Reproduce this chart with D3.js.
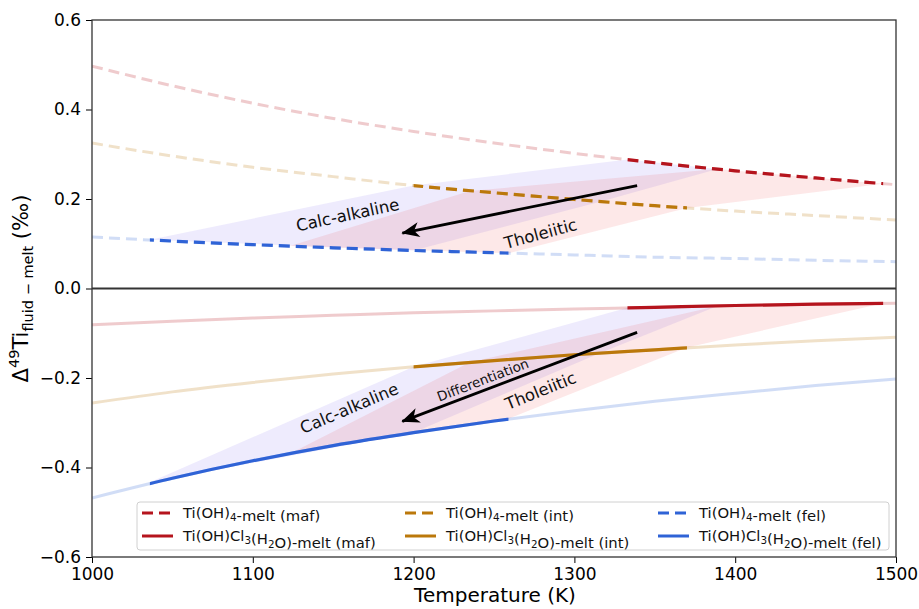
<!DOCTYPE html>
<html>
<head>
<meta charset="utf-8">
<script src="https://cdn.jsdelivr.net/npm/d3@7"></script>
<style>
body { margin: 0; background: #fff; }
svg { font-family: "DejaVu Sans", sans-serif; }
</style>
</head>
<body>
<div id="chart"></div>
<script>
const WIDTH = 919
const HEIGHT = 609
const LEFT = 92, RIGHT = 896, TOP = 20, BOTTOM = 557

// temperature grid (K)
const temps = [1000, 1050, 1100, 1150, 1200, 1250, 1300, 1350, 1400, 1450, 1500]

// Ti(OH)4-melt (dashed, upper half)
const mafOH4 = [0.497, 0.453, 0.414, 0.380, 0.351, 0.325, 0.302, 0.281, 0.263, 0.247, 0.232]
const intOH4 = [0.325, 0.296, 0.271, 0.250, 0.230, 0.214, 0.199, 0.185, 0.173, 0.163, 0.153]
const felOH4 = [0.115, 0.106, 0.098, 0.091, 0.085, 0.080, 0.075, 0.070, 0.067, 0.063, 0.060]

// Ti(OH)Cl3(H2O)-melt (solid, lower half)
const mafCl = [-0.081, -0.073, -0.066, -0.060, -0.054, -0.050, -0.046, -0.042, -0.038, -0.035, -0.033]
const intCl = [-0.256, -0.231, -0.210, -0.191, -0.175, -0.161, -0.148, -0.137, -0.126, -0.117, -0.109]
const felCl = [-0.468, -0.424, -0.385, -0.351, -0.322, -0.296, -0.273, -0.252, -0.234, -0.217, -0.202]

// temperature ranges drawn in full colour
const mafRange = [1333, 1492]
const intRange = [1200, 1370]
const felRange = [1036, 1259]

// shaded fields [T, value]
const calcTop = [[1036, 0.109], [1200, 0.230], [1333, 0.288], [1389, 0.267], [1316, 0.194], [1200, 0.085]]
const tholTop = [[1123, 0.095], [1235, 0.218], [1389, 0.267], [1492, 0.234], [1370, 0.180], [1259, 0.079]]
const calcBot = [[1036, -0.433], [1200, -0.175], [1333, -0.043], [1389, -0.039], [1316, -0.144], [1200, -0.322]]
const tholBot = [[1123, -0.369], [1235, -0.165], [1389, -0.039], [1492, -0.033], [1370, -0.132], [1259, -0.291]]

// differentiation arrows [from, to]
const arrows = [
    [[1339, 0.230], [1193, 0.124]],
    [[1339, -0.098], [1193, -0.297]]
]

// text annotations [T, value, angle, text, size]
const notes = [
    [1159, 0.164, -12, 'Calc-alkaline', 16.5],
    [1279, 0.122, -15, 'Tholeiitic', 16.5],
    [1160, -0.268, -23, 'Calc-alkaline', 16.5],
    [1243, -0.204, -21, 'Differentiation', 13.5],
    [1279, -0.229, -22, 'Tholeiitic', 16.5]
]

const xTicks = [1000, 1100, 1200, 1300, 1400, 1500]
const yTicks = [-0.6, -0.4, -0.2, 0.0, 0.2, 0.4, 0.6]

const COLORS = { maf: '#b5141d', int: '#bb780b', fel: '#2f63d6' }

const series = [
    { key: 'mafOH4', values: mafOH4, range: mafRange, color: COLORS.maf, dashed: true, label: 'Ti(OH)_4-melt (maf)' },
    { key: 'mafCl', values: mafCl, range: mafRange, color: COLORS.maf, dashed: false, label: 'Ti(OH)Cl_3(H_2O)-melt (maf)' },
    { key: 'intOH4', values: intOH4, range: intRange, color: COLORS.int, dashed: true, label: 'Ti(OH)_4-melt (int)' },
    { key: 'intCl', values: intCl, range: intRange, color: COLORS.int, dashed: false, label: 'Ti(OH)Cl_3(H_2O)-melt (int)' },
    { key: 'felOH4', values: felOH4, range: felRange, color: COLORS.fel, dashed: true, label: 'Ti(OH)_4-melt (fel)' },
    { key: 'felCl', values: felCl, range: felRange, color: COLORS.fel, dashed: false, label: 'Ti(OH)Cl_3(H_2O)-melt (fel)' }
]

// writes "a_b" style text as tspans with one-char subscripts
const richText = (sel, str, size) => {
    const parts = str.split(/(_.)/).filter(p => p.length)
    parts.forEach(p => {
        if (p[0] === '_') {
            sel.append('tspan').attr('font-size', size * 0.7).attr('dy', size * 0.22).text(p[1])
            sel.append('tspan').attr('dy', -size * 0.22).text('')
        } else {
            sel.append('tspan').text(p)
        }
    })
}

const main = _ => {
    const x = d3.scaleLinear().domain([1000, 1500]).range([LEFT, RIGHT])
    const y = d3.scaleLinear().domain([-0.6, 0.6]).range([BOTTOM, TOP])

    const svg = d3.select('#chart')
        .append('svg')
        .attr('width', WIDTH)
        .attr('height', HEIGHT)

    const defs = svg.append('defs')
    defs.append('clipPath').attr('id', 'plot')
        .append('rect')
        .attr('x', LEFT).attr('y', TOP)
        .attr('width', RIGHT - LEFT).attr('height', BOTTOM - TOP)

    series.forEach(s => {
        defs.append('clipPath').attr('id', `clip-${s.key}`)
            .append('rect')
            .attr('x', x(s.range[0]))
            .attr('y', 0)
            .attr('width', x(s.range[1]) - x(s.range[0]))
            .attr('height', HEIGHT)
    })

    defs.append('marker')
        .attr('id', 'head')
        .attr('markerUnits', 'userSpaceOnUse')
        .attr('viewBox', '-19 -9 21 18')
        .attr('markerWidth', 21)
        .attr('markerHeight', 18)
        .attr('refX', 0)
        .attr('refY', 0)
        .attr('orient', 'auto')
        .append('path')
        .attr('d', 'M1,0 L-17,-7.5 L-12,0 L-17,7.5 Z')
        .attr('fill', '#000')

    const plot = svg.append('g').attr('clip-path', 'url(#plot)')

    const area = d3.line().x(d => x(d[0])).y(d => y(d[1]))

    const fields = [
        [calcTop, '#7b68ee', 0.13],
        [calcBot, '#7b68ee', 0.13],
        [tholTop, '#f03030', 0.11],
        [tholBot, '#f03030', 0.11]
    ]
    plot.selectAll('path.field')
        .data(fields)
        .enter()
        .append('path')
        .attr('class', 'field')
        .attr('d', d => area(d[0]) + 'Z')
        .attr('fill', d => d[1])
        .attr('fill-opacity', d => d[2])

    const line = d3.line()
        .x((d, i) => x(temps[i]))
        .y(d => y(d))
        .curve(d3.curveMonotoneX)

    // faint full-range curves
    plot.selectAll('path.faint')
        .data(series)
        .enter()
        .append('path')
        .attr('class', 'faint')
        .attr('d', s => line(s.values))
        .attr('fill', 'none')
        .attr('stroke', s => s.color)
        .attr('stroke-opacity', 0.22)
        .attr('stroke-width', 3)
        .attr('stroke-dasharray', s => s.dashed ? '11,6' : null)

    // highlighted ranges
    plot.selectAll('path.strong')
        .data(series)
        .enter()
        .append('path')
        .attr('class', 'strong')
        .attr('clip-path', s => `url(#clip-${s.key})`)
        .attr('d', s => line(s.values))
        .attr('fill', 'none')
        .attr('stroke', s => s.color)
        .attr('stroke-width', 3.2)
        .attr('stroke-dasharray', s => s.dashed ? '11,6' : null)

    // zero line
    svg.append('line')
        .attr('x1', LEFT).attr('x2', RIGHT)
        .attr('y1', y(0)).attr('y2', y(0))
        .attr('stroke', '#333')
        .attr('stroke-width', 2)

    plot.selectAll('line.arrow')
        .data(arrows)
        .enter()
        .append('line')
        .attr('class', 'arrow')
        .attr('x1', d => x(d[0][0])).attr('y1', d => y(d[0][1]))
        .attr('x2', d => x(d[1][0])).attr('y2', d => y(d[1][1]))
        .attr('stroke', '#000')
        .attr('stroke-width', 2.8)
        .attr('marker-end', 'url(#head)')

    plot.selectAll('text.note')
        .data(notes)
        .enter()
        .append('text')
        .attr('class', 'note')
        .attr('transform', d => `translate(${x(d[0])},${y(d[1])}) rotate(${d[2]})`)
        .attr('text-anchor', 'middle')
        .attr('dominant-baseline', 'central')
        .attr('font-size', d => d[4])
        .attr('fill', '#111')
        .text(d => d[3])

    // axes
    const xAxis = d3.axisBottom(x)
        .tickValues(xTicks)
        .tickSize(6)
        .tickPadding(5)
        .tickFormat(d3.format('d'))

    svg.append('g')
        .attr('transform', `translate(0, ${BOTTOM})`)
        .call(xAxis)
        .call(g => g.select('.domain').remove())
        .call(g => g.selectAll('text').attr('font-size', 17).attr('font-family', 'DejaVu Sans').attr('fill', '#000'))

    const yAxis = d3.axisLeft(y)
        .tickValues(yTicks)
        .tickSize(6)
        .tickPadding(5)
        .tickFormat(d => d3.format('.1f')(d).replace('-', '\u2212'))

    svg.append('g')
        .attr('transform', `translate(${LEFT}, 0)`)
        .call(yAxis)
        .call(g => g.select('.domain').remove())
        .call(g => g.selectAll('text').attr('font-size', 17).attr('font-family', 'DejaVu Sans').attr('fill', '#000'))

    svg.append('rect')
        .attr('x', LEFT).attr('y', TOP)
        .attr('width', RIGHT - LEFT).attr('height', BOTTOM - TOP)
        .attr('fill', 'none')
        .attr('stroke', '#333')
        .attr('stroke-width', 1.3)

    svg.append('text')
        .attr('x', 495)
        .attr('y', 602)
        .attr('text-anchor', 'middle')
        .attr('font-size', 20)
        .text('Temperature (K)')

    const yl = svg.append('text')
        .attr('transform', `translate(28, ${y(0)}) rotate(-90)`)
        .attr('text-anchor', 'middle')
        .attr('font-size', 21)
    yl.append('tspan').text('\u0394')
    yl.append('tspan').attr('font-size', 14.5).attr('dy', -9).text('49')
    yl.append('tspan').attr('dy', 9).text('Ti')
    yl.append('tspan').attr('font-size', 14.5).attr('dy', 5).text('fluid \u2212 melt')
    yl.append('tspan').attr('dy', -5).text(' (\u2030)')

    // legend
    const legend = svg.append('g')
    legend.append('rect')
        .attr('x', 137).attr('y', 502)
        .attr('width', 752).attr('height', 48)
        .attr('rx', 3)
        .attr('fill', '#fff')
        .attr('fill-opacity', 0.85)
        .attr('stroke', '#d0d0d0')

    const colX = [142, 405, 658]
    const rowY = [513, 536]
    series.forEach((s, i) => {
        const cx = colX[Math.floor(i / 2)]
        const cy = rowY[i % 2]
        legend.append('line')
            .attr('x1', cx).attr('x2', cx + 31)
            .attr('y1', cy).attr('y2', cy)
            .attr('stroke', s.color)
            .attr('stroke-width', 3)
            .attr('stroke-dasharray', s.dashed ? '11,6' : null)
        const t = legend.append('text')
            .attr('x', cx + 41)
            .attr('y', cy + 5)
            .attr('font-size', 14.8)
            .attr('fill', '#111')
        richText(t, s.label, 14.8)
    })
}

document.addEventListener('DOMContentLoaded', main)
</script>
</body>
</html>
